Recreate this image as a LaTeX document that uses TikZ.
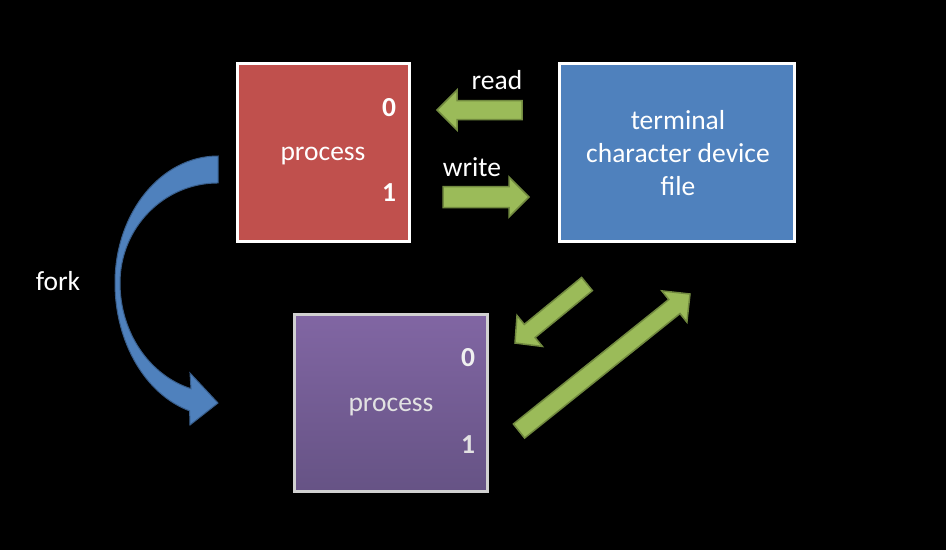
\documentclass[tikz,border=0pt]{standalone}
\usepackage{fontspec}
\setmainfont{Carlito}
\usetikzlibrary{calc}
\definecolor{pred}{HTML}{C0504D}
\definecolor{tblue}{HTML}{4F81BD}
\definecolor{ptop}{HTML}{8166A3}
\definecolor{pbot}{HTML}{665385}
\definecolor{agreen}{HTML}{9BBB59}
\definecolor{agreenb}{HTML}{71893F}
\definecolor{fblue}{HTML}{4F81BD}
\definecolor{fblueb}{HTML}{385D8A}
\definecolor{ptext}{HTML}{E2E2E2}
\newcommand\blockarr[5]{%
  \coordinate (ba-h) at ($(#2)!#5!(#1)$);
  \draw[garrow] ($(#1)!#3!90:(#2)$) -- ($(ba-h)!#3!-90:(#1)$) -- ($(ba-h)!#4!-90:(#1)$) -- (#2)
    -- ($(ba-h)!#4!90:(#1)$) -- ($(ba-h)!#3!90:(#1)$) -- ($(#1)!#3!-90:(#2)$) -- cycle;}
\begin{document}
\begin{tikzpicture}[x=1pt,y=-1pt,
  txt/.style={text=white, font=\fontsize{27.5}{33}\selectfont, inner sep=0pt, align=center},
  digit/.style={txt, font=\fontsize{27.5}{33}\selectfont\bfseries},
  box/.style={draw=white, line width=3pt, inner sep=0pt, minimum width=#1},
  garrow/.style={fill=agreen, draw=agreenb, line width=1.5pt, line join=miter},
  forkarrow/.style={fill=fblue, draw=fblueb, line width=1pt}]
\fill[black] (0,0) rectangle (946,550);
\useasboundingbox (0,0) rectangle (946,550);
% boxes
\node[box=172pt, minimum height=178pt, fill=pred] (p1) at (323.5,152.5) {};
\node[box=235pt, minimum height=178pt, fill=tblue] (term) at (677,152.5) {};
\node[box=193pt, minimum height=177pt, draw=black!18, top color=ptop, bottom color=pbot] (p2) at (391,403) {};
% texts
\node[txt] (p1t) at (323,156) {process};
\node[digit] (p1z) at (389,108) {0};
\node[digit] (p1o) at (389,193) {1};
\node[txt] (termt) at (678,153) {terminal\\character device\\file};
\node[txt, text=ptext] (p2t) at (391,407) {process};
\node[digit, text=white!94!black] (p2z) at (468,358) {0};
\node[digit, text=ptext] (p2o) at (468,445) {1};
\node[txt] (rdl) at (497,80) {read};
\node[txt] (wrl) at (472,167) {write};
\node[txt] (fkl) at (58,281) {fork};
% green block arrows
\coordinate (rdT) at (522,110); \coordinate (rdH) at (437,110);
\coordinate (wrT) at (443,197); \coordinate (wrH) at (529,197);
\coordinate (dlT) at (587,284); \coordinate (dlH) at (515,343);
\coordinate (urT) at (519,431); \coordinate (urH) at (690,294);
\blockarr{rdT}{rdH}{9.5pt}{20pt}{20pt}
\blockarr{wrT}{wrH}{10.5pt}{20pt}{20pt}
\blockarr{dlT}{dlH}{8.5pt}{20pt}{19pt}
\blockarr{urT}{urH}{9pt}{20pt}{20pt}
% fork arrow
\coordinate (fkT) at (218,156);
\draw[forkarrow] (fkT) arc[start angle=90,end angle=180,x radius=103pt,y radius=127pt]
  arc[start angle=180,end angle=254,x radius=103pt,y radius=133pt]
  -- (190,425) -- (218,403) -- (190,373) -- (191,388.7)
  arc[start angle=254,end angle=180,x radius=98pt,y radius=110pt]
  arc[start angle=180,end angle=90,x radius=98pt,y radius=100pt] -- cycle;
\end{tikzpicture}
\end{document}
